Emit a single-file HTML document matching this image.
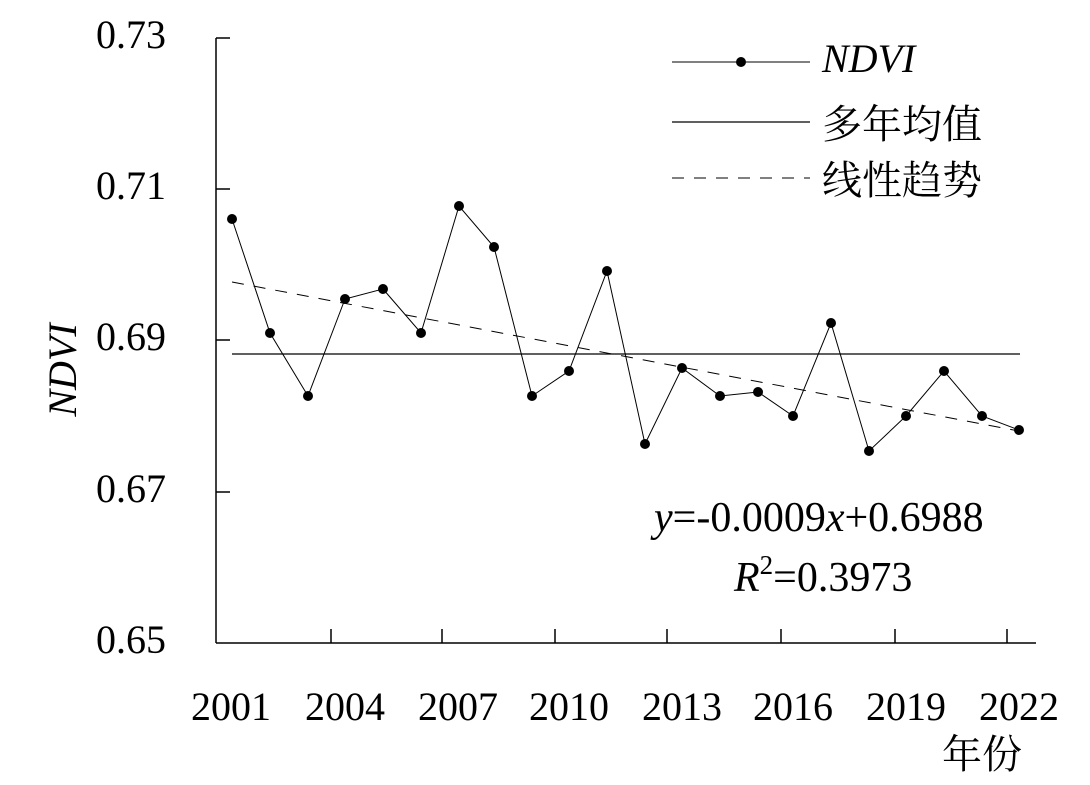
<!DOCTYPE html>
<html><head><meta charset="utf-8"><style>
html,body{margin:0;padding:0;background:#fff;}
svg{display:block;}
text{font-family:"Liberation Serif","Noto Serif CJK SC",serif;fill:#000;}
</style></head><body>
<svg width="1090" height="785" viewBox="0 0 1090 785" xmlns="http://www.w3.org/2000/svg">
<g stroke="#000" stroke-width="1.5" fill="none">
<line x1="216" y1="38" x2="216" y2="643"/>
<line x1="216" y1="643" x2="1036" y2="643"/>
<line x1="216" y1="38" x2="230" y2="38"/>
<line x1="216" y1="189" x2="230" y2="189"/>
<line x1="216" y1="340" x2="230" y2="340"/>
<line x1="216" y1="492" x2="230" y2="492"/>
<line x1="331" y1="643" x2="331" y2="629"/>
<line x1="442" y1="643" x2="442" y2="629"/>
<line x1="555" y1="643" x2="555" y2="629"/>
<line x1="667" y1="643" x2="667" y2="629"/>
<line x1="781" y1="643" x2="781" y2="629"/>
<line x1="895" y1="643" x2="895" y2="629"/>
<line x1="1007" y1="643" x2="1007" y2="629"/>
</g>
<g font-size="40" text-anchor="end">
<text x="166" y="48">0.73</text>
<text x="166" y="199">0.71</text>
<text x="166" y="350">0.69</text>
<text x="166" y="502">0.67</text>
<text x="166" y="653">0.65</text>
</g>
<g font-size="40" text-anchor="middle">
<text x="231" y="720">2001</text>
<text x="345" y="720">2004</text>
<text x="458" y="720">2007</text>
<text x="569" y="720">2010</text>
<text x="682" y="720">2013</text>
<text x="793" y="720">2016</text>
<text x="906" y="720">2019</text>
<text x="1019" y="720">2022</text>
<text x="982" y="768">年份</text>
</g>
<text x="0" y="0" font-size="40" font-style="italic" text-anchor="middle" transform="translate(76,370) rotate(-90)">NDVI</text>
<line x1="232" y1="354" x2="1020" y2="354" stroke="#000" stroke-width="1.3"/>
<line x1="232" y1="282" x2="1019" y2="431" stroke="#000" stroke-width="1" stroke-dasharray="12,10"/>
<polyline fill="none" stroke="#000" stroke-width="1" points="232,219 270,333 308,396 345,299 383,289 421,333 459,206 494,247 532,396 569,371 607,271 645,444 682,368 720,396 758,392 793,416 831,323 869,451 906,416 944,371 982,416 1019,430"/>
<g fill="#000">
<circle cx="232" cy="219" r="5"/><circle cx="270" cy="333" r="5"/><circle cx="308" cy="396" r="5"/><circle cx="345" cy="299" r="5"/><circle cx="383" cy="289" r="5"/><circle cx="421" cy="333" r="5"/><circle cx="459" cy="206" r="5"/><circle cx="494" cy="247" r="5"/><circle cx="532" cy="396" r="5"/><circle cx="569" cy="371" r="5"/><circle cx="607" cy="271" r="5"/><circle cx="645" cy="444" r="5"/><circle cx="682" cy="368" r="5"/><circle cx="720" cy="396" r="5"/><circle cx="758" cy="392" r="5"/><circle cx="793" cy="416" r="5"/><circle cx="831" cy="323" r="5"/><circle cx="869" cy="451" r="5"/><circle cx="906" cy="416" r="5"/><circle cx="944" cy="371" r="5"/><circle cx="982" cy="416" r="5"/><circle cx="1019" cy="430" r="5"/>
</g>
<line x1="672" y1="62" x2="810" y2="62" stroke="#000" stroke-width="1"/>
<circle cx="741" cy="62" r="5" fill="#000"/>
<text x="822" y="72" font-size="40" font-style="italic">NDVI</text>
<line x1="672" y1="122" x2="810" y2="122" stroke="#000" stroke-width="1.3"/>
<text x="822" y="138" font-size="40">多年均值</text>
<line x1="672" y1="178" x2="810" y2="178" stroke="#000" stroke-width="1" stroke-dasharray="12,10"/>
<text x="822" y="194" font-size="40">线性趋势</text>
<text x="654" y="531" font-size="42"><tspan font-style="italic">y</tspan>=-0.0009<tspan font-style="italic">x</tspan>+0.6988</text>
<text x="734" y="591" font-size="42"><tspan font-style="italic">R</tspan><tspan font-size="27" dy="-17">2</tspan><tspan dy="17">=0.3973</tspan></text>
</svg>
</body></html>
